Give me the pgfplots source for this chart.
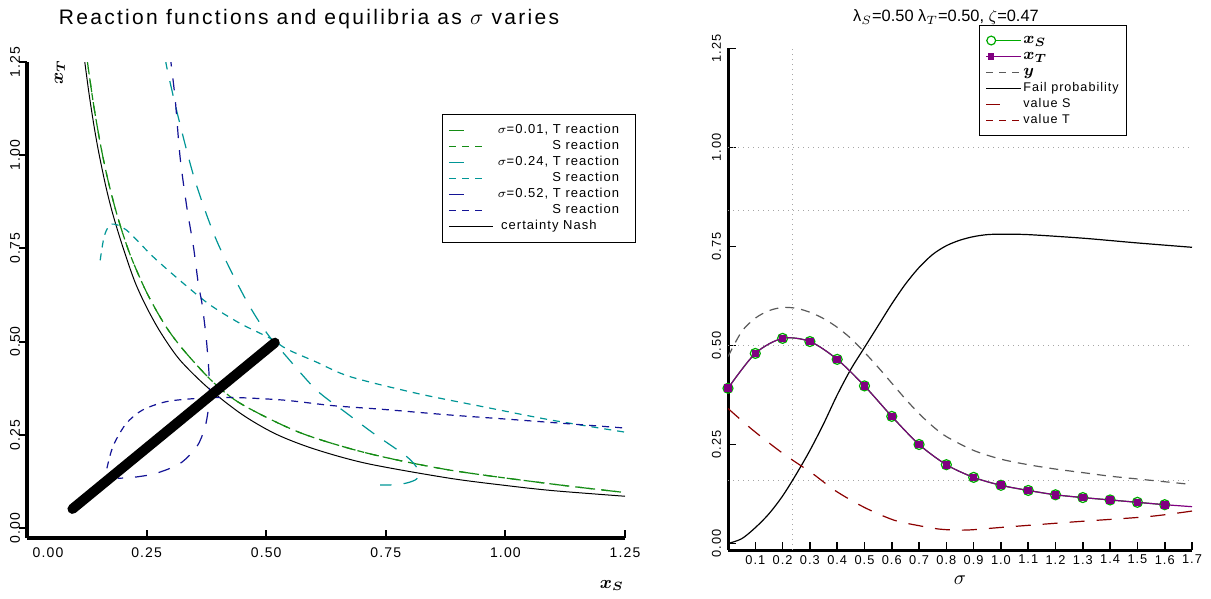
\documentclass[border=0pt]{standalone}
\usepackage{fontspec}
\setmainfont{Liberation Sans}[LetterSpace=8]
\usepackage{bm}
\usepackage{pgfplots}
\pgfplotsset{compat=1.18}

\definecolor{lgreen}{RGB}{20,140,20}
\definecolor{lteal}{RGB}{0,150,150}
\definecolor{lnavy}{RGB}{20,20,150}
\definecolor{rgreen}{RGB}{0,170,0}
\definecolor{rpurple}{RGB}{128,0,128}
\definecolor{rdred}{RGB}{140,0,0}
\definecolor{rgray}{RGB}{90,90,90}

\begin{document}
\begin{tikzpicture}
\useasboundingbox (0,0) rectangle (605.5pt,-299.5pt);

\node[anchor=base, font=\fontsize{10.5}{12}\selectfont\addfontfeature{LetterSpace=11}] at (154.5pt,-12.5pt)
  {Reaction functions and equilibria as $\sigma$ varies};
\node[anchor=base, font=\fontsize{8.2}{10}\selectfont\addfontfeature{LetterSpace=0}] at (473pt,-11pt)
  {λ$_S$=0.50 λ$_T$=0.50, $\zeta$=0.47};

% ---------------- left: reaction functions ----------------
\begin{axis}[
  at={(13.5pt,-269pt)}, anchor=south west,
  scale only axis, width=299pt, height=238pt,
  xmin=0, xmax=1.25, ymin=-0.027, ymax=1.25,
  clip mode=individual,
  axis lines=left, axis line style={-, line width=2pt},
  xtick={0,0.25,0.5,0.75,1,1.25},
  xticklabels={\hspace{21pt}0.00,0.25,0.50,0.75,1.00,1.25},
  ytick={0,0.25,0.5,0.75,1,1.25},
  yticklabels={0.00,0.25,0.50,0.75,1.00,1.25},
  tick label style={font=\fontsize{7}{8}\selectfont},
  xticklabel style={yshift=-1.5pt},
  yticklabel style={rotate=90, anchor=south},
  tick align=inside, major tick length=4pt,
  tick style={line width=1pt, black},
  ytick style={xshift=-4pt},
  legend style={at={(0.694,0.891)}, anchor=north west, draw=black,
    line width=0.6pt, font=\fontsize{6.5}{7}\selectfont,
    inner xsep=3pt, inner ysep=4pt, row sep=0pt,
    nodes={inner sep=1pt, text height=4.6pt, text depth=1.4pt},
    /tikz/every even column/.append style={column sep=3pt}},
  legend cell align=left,
]
% certainty Nash
\addplot[black, line width=0.5pt, smooth, forget plot] coordinates {
  (0.119,1.27)(0.121,1.248)(0.13,1.162)(0.14,1.079)(0.15,1.007)(0.165,0.915)
  (0.18,0.839)(0.20,0.755)(0.225,0.662)(0.25,0.592)(0.28,0.523)(0.32,0.450)
  (0.38,0.374)(0.45,0.304)(0.52,0.252)(0.60,0.212)(0.71,0.173)(0.88,0.134)
  (1.0,0.114)(1.1,0.100)(1.25,0.085)};
% sigma = 0.01
\addplot[lgreen, line width=0.6pt, dash pattern=on 7pt off 5pt, smooth, forget plot] coordinates {
  (0.125,1.27)(0.127,1.244)(0.14,1.129)(0.155,1.019)(0.17,0.929)(0.19,0.832)
  (0.215,0.735)(0.25,0.632)(0.29,0.541)(0.33,0.473)(0.39,0.390)(0.45,0.331)
  (0.57,0.256)(0.71,0.201)(0.88,0.156)(1.09,0.119)(1.25,0.095)};
\addplot[lgreen, line width=0.6pt, dash pattern=on 3.5pt off 3pt, smooth, forget plot] coordinates {
  (0.125,1.27)(0.127,1.244)(0.14,1.129)(0.155,1.019)(0.17,0.929)(0.19,0.832)
  (0.215,0.735)(0.25,0.632)(0.29,0.541)(0.33,0.473)(0.39,0.390)(0.45,0.331)
  (0.57,0.256)(0.71,0.201)(0.88,0.156)(1.09,0.119)(1.25,0.095)};
% sigma = 0.24
\addplot[lteal, line width=0.6pt, dash pattern=on 7.5pt off 6pt, smooth, forget plot] coordinates {
  (0.289,1.27)(0.292,1.237)(0.316,1.103)(0.351,0.933)(0.396,0.772)
  (0.456,0.616)(0.500,0.525)(0.543,0.459)(0.605,0.370)(0.668,0.308)
  (0.724,0.254)(0.794,0.191)(0.818,0.155)(0.815,0.132)(0.795,0.121)
  (0.770,0.116)(0.738,0.115)};
\addplot[lteal, line width=0.6pt, dash pattern=on 3.5pt off 3pt, smooth, forget plot] coordinates {
  (0.153,0.718)(0.162,0.785)(0.177,0.815)(0.208,0.799)(0.264,0.727)
  (0.327,0.656)(0.383,0.598)(0.445,0.549)(0.508,0.509)(0.543,0.480)
  (0.605,0.445)(0.675,0.406)(0.815,0.361)(0.954,0.325)(1.093,0.290)
  (1.25,0.257)};
% sigma = 0.52
\addplot[lnavy, line width=0.6pt, dash pattern=on 6pt off 6pt, smooth, forget plot] coordinates {
  (0.299,1.27)(0.302,1.237)(0.310,1.147)(0.320,0.995)(0.334,0.861)
  (0.348,0.754)(0.358,0.656)(0.366,0.600)(0.375,0.504)(0.381,0.400)
  (0.380,0.330)(0.372,0.270)(0.355,0.218)(0.320,0.173)(0.271,0.147)
  (0.230,0.137)(0.190,0.133)};
\addplot[lnavy, line width=0.6pt, dash pattern=on 3.5pt off 3pt, smooth, forget plot] coordinates {
  (0.167,0.160)(0.176,0.205)(0.186,0.236)(0.208,0.281)(0.241,0.316)
  (0.292,0.339)(0.362,0.348)(0.431,0.350)(0.536,0.343)(0.640,0.328)
  (0.745,0.318)(0.884,0.303)(1.023,0.290)(1.25,0.268)};
% equilibria as sigma varies
\addplot[black, line width=5pt, line cap=round, forget plot] coordinates {
  (0.095,0.051)(0.518,0.497)};

\addlegendimage{legend image code/.code={\draw[lgreen, line width=0.6pt] (0pt,0pt) -- (7.5pt,0pt); \path (19pt,0pt);}}
\addlegendentry{\makebox[66pt][r]{$\sigma$=0.01, T reaction\kern4pt}}
\addlegendimage{legend image code/.code={\draw[lgreen, line width=0.6pt, dash pattern=on 3.5pt off 3pt] (0pt,0pt) -- (19pt,0pt);}}
\addlegendentry{\makebox[66pt][r]{S reaction\kern4pt}}
\addlegendimage{legend image code/.code={\draw[lteal, line width=0.6pt] (0pt,0pt) -- (7.5pt,0pt); \path (19pt,0pt);}}
\addlegendentry{\makebox[66pt][r]{$\sigma$=0.24, T reaction\kern4pt}}
\addlegendimage{legend image code/.code={\draw[lteal, line width=0.6pt, dash pattern=on 3.5pt off 3pt] (0pt,0pt) -- (19pt,0pt);}}
\addlegendentry{\makebox[66pt][r]{S reaction\kern4pt}}
\addlegendimage{legend image code/.code={\draw[lnavy, line width=0.6pt] (0pt,0pt) -- (7.5pt,0pt); \path (19pt,0pt);}}
\addlegendentry{\makebox[66pt][r]{$\sigma$=0.52, T reaction\kern4pt}}
\addlegendimage{legend image code/.code={\draw[lnavy, line width=0.6pt, dash pattern=on 3.5pt off 3pt] (0pt,0pt) -- (19pt,0pt);}}
\addlegendentry{\makebox[66pt][r]{S reaction\kern4pt}}
\addlegendimage{legend image code/.code={\draw[black, line width=0.5pt] (0pt,0pt) -- (21.7pt,0pt);}}
\addlegendentry{\makebox[66pt][l]{\kern3pt certainty Nash}}

\node[font=\fontsize{9}{10}\selectfont] at (axis description cs:0.978,-0.099) {$\bm{x_S}$};
\node[font=\fontsize{9}{10}\selectfont, rotate=90] at (axis description cs:0.055,0.979) {$\bm{x_T}$};
\end{axis}

% ---------------- right: equilibria vs sigma ----------------
\begin{axis}[
  at={(364pt,-275pt)}, anchor=south west,
  scale only axis, width=232pt, height=250.75pt,
  xmin=0, xmax=1.7, ymin=-0.0164, ymax=1.25,
  clip mode=individual,
  axis lines=left, axis line style={-, line width=1.5pt},
  xtick={0.1,0.2,0.3,0.4,0.5,0.6,0.7,0.8,0.9,1.0,1.1,1.2,1.3,1.4,1.5,1.6,1.7},
  xticklabels={0.1,0.2,0.3,0.4,0.5,0.6,0.7,0.8,0.9,1.0,1.1,1.2,1.3,1.4,1.5,1.6,1.7},
  ytick={0,0.25,0.5,0.75,1,1.25},
  yticklabels={0.00,0.25,0.50,0.75,1.00,1.25},
  tick label style={font=\fontsize{6.4}{7}\selectfont},
  xticklabel style={yshift=1pt},
  yticklabel style={rotate=90, anchor=south},
  tick align=inside, major tick length=4pt,
  tick style={line width=0.8pt, black},
  legend style={at={(0.541,1.047)}, anchor=north west, draw=black,
    line width=0.6pt, font=\fontsize{6.3}{7}\selectfont,
    inner xsep=3pt, inner ysep=3.5pt, row sep=0pt,
    nodes={inner sep=1pt, text height=4.6pt, text depth=1.4pt},
    /tikz/every even column/.append style={column sep=1pt}},
  legend cell align=left,
]
% dotted reference lines
\addplot[gray!70, line width=0.5pt, dotted, forget plot] coordinates {(0,0.1587)(1.7,0.1587)};
\addplot[gray!70, line width=0.5pt, dotted, forget plot] coordinates {(0,0.5)(1.7,0.5)};
\addplot[gray!70, line width=0.5pt, dotted, forget plot] coordinates {(0,0.8413)(1.7,0.8413)};
\addplot[gray!70, line width=0.5pt, dotted, forget plot] coordinates {(0,1.0)(1.7,1.0)};
\addplot[gray!70, line width=0.5pt, dotted, forget plot] coordinates {(0.236,-0.0164)(0.236,1.25)};

% fail probability
\addplot[black, line width=0.6pt, smooth, forget plot] coordinates {
  (0,0.0)(0.05,0.012)(0.1,0.040)(0.15,0.075)(0.2,0.120)(0.25,0.175)
  (0.3,0.235)(0.35,0.302)(0.4,0.375)(0.45,0.440)(0.5,0.495)(0.55,0.550)
  (0.6,0.605)(0.65,0.655)(0.7,0.697)(0.75,0.730)(0.8,0.752)(0.85,0.766)
  (0.9,0.775)(0.95,0.780)(1.0,0.781)(1.1,0.780)(1.3,0.771)(1.5,0.759)(1.7,0.748)};
% y
\addplot[rgray, line width=0.6pt, dash pattern=on 4.5pt off 3.5pt, smooth, forget plot] coordinates {
  (0,0.472)(0.05,0.535)(0.1,0.569)(0.15,0.588)(0.2,0.596)(0.25,0.594)
  (0.3,0.584)(0.35,0.568)(0.4,0.546)(0.45,0.518)(0.5,0.483)(0.55,0.445)
  (0.6,0.405)(0.65,0.365)(0.7,0.328)(0.75,0.296)(0.8,0.270)(0.9,0.235)
  (1.0,0.213)(1.1,0.199)(1.2,0.188)(1.3,0.179)(1.4,0.170)(1.5,0.163)
  (1.6,0.156)(1.7,0.149)};
% value S
\addplot[rdred, line width=0.6pt, dash pattern=on 7.5pt off 6pt, smooth, forget plot] coordinates {
  (0,0.341)(0.09,0.287)(0.2,0.228)(0.309,0.177)(0.394,0.133)(0.5,0.091)
  (0.608,0.059)(0.70,0.045)(0.78,0.036)(0.874,0.034)(1.008,0.041)
  (1.275,0.055)(1.54,0.068)(1.70,0.082)};
% x_S and x_T
\addplot[rgreen, line width=0.6pt, smooth, mark=o, mark size=2.5pt, mark options={solid}, forget plot] coordinates {
  (0,0.392)(0.1,0.480)(0.2,0.518)(0.3,0.510)(0.4,0.465)(0.5,0.398)
  (0.6,0.321)(0.7,0.250)(0.8,0.199)(0.9,0.167)(1.0,0.147)(1.1,0.134)
  (1.2,0.123)(1.3,0.116)(1.4,0.110)(1.5,0.104)(1.6,0.098)};
\addplot[rpurple, line width=0.6pt, smooth, mark=square*, mark size=1.6pt, forget plot] coordinates {
  (0,0.392)(0.1,0.480)(0.2,0.518)(0.3,0.510)(0.4,0.465)(0.5,0.398)
  (0.6,0.321)(0.7,0.250)(0.8,0.199)(0.9,0.167)(1.0,0.147)(1.1,0.134)
  (1.2,0.123)(1.3,0.116)(1.4,0.110)(1.5,0.104)(1.6,0.098)};
\addplot[rpurple, line width=0.6pt, forget plot] coordinates {(1.6,0.098)(1.7,0.093)};

\addlegendimage{legend image code/.code={\draw[rgreen, line width=0.6pt] (0pt,0pt) -- (17.3pt,0pt); \draw[rgreen, line width=0.6pt, fill=white] (2.5pt,0pt) circle (2.2pt);}}
\addlegendentry{\fontsize{8.5}{8}\selectfont$\bm{x_S}$}
\addlegendimage{legend image code/.code={\draw[rpurple, line width=0.6pt] (0pt,0pt) -- (17.3pt,0pt); \fill[rpurple] (1.2pt,-1.3pt) rectangle (3.8pt,1.3pt);}}
\addlegendentry{\fontsize{8.5}{8}\selectfont$\bm{x_T}$}
\addlegendimage{legend image code/.code={\draw[rgray, line width=0.6pt, dash pattern=on 3.5pt off 3pt] (0pt,0pt) -- (17.3pt,0pt);}}
\addlegendentry{\fontsize{8.5}{8}\selectfont$\bm{y}$}
\addlegendimage{legend image code/.code={\draw[black, line width=0.6pt] (0pt,0pt) -- (17.3pt,0pt);}}
\addlegendentry{Fail probability}
\addlegendimage{legend image code/.code={\draw[rdred, line width=0.6pt] (0pt,0pt) -- (7pt,0pt); \path (17.3pt,0pt);}}
\addlegendentry{value S}
\addlegendimage{legend image code/.code={\draw[rdred, line width=0.6pt, dash pattern=on 3.5pt off 3pt] (0pt,0pt) -- (17.3pt,0pt);}}
\addlegendentry{value T}

\node[font=\fontsize{10}{11}\selectfont] at (axis description cs:0.5,-0.06) {$\sigma$};
\end{axis}
\end{tikzpicture}
\end{document}
